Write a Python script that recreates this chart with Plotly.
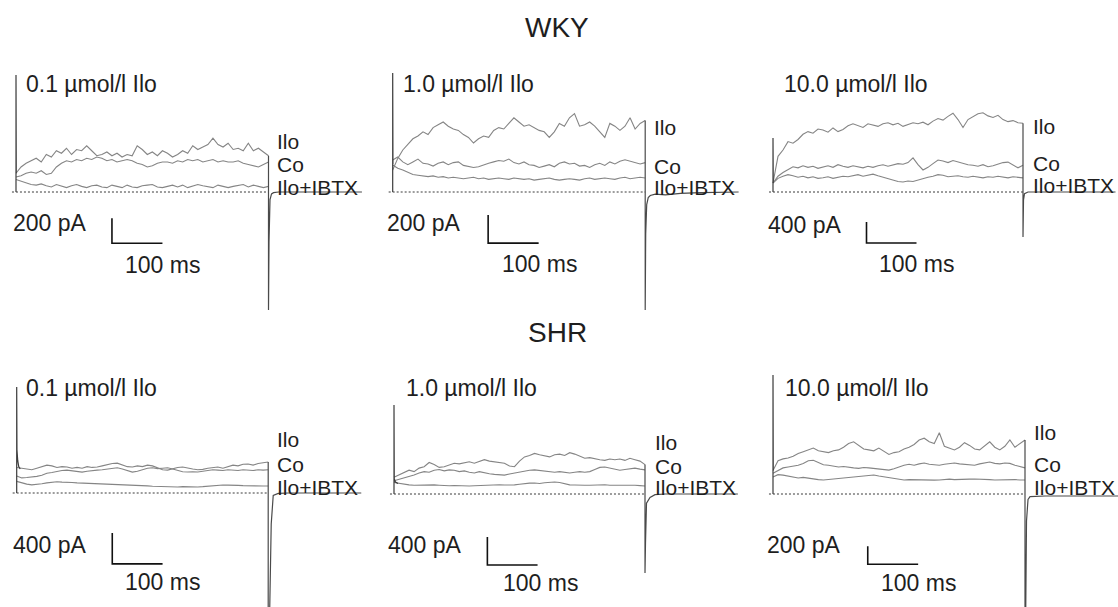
import plotly.graph_objects as go

W, H = 1118, 607

# time base (ms) of the depolarising pulse, sampled every 10 ms
t = list(range(0, 501, 10))
onset_t_fast = [0, 0, 0.5]
tail_t = [500, 500, 501, 503, 506, 510, 520, 540, 570, 610, 650, 685]

# ---------------- WKY ----------------
wky01_ilo = [150,200,230,250,270,240,300,280,330,310, 350,300,340,330,370,330,290,300,320,290,
             310,280,300,290,370,340,300,320,290,330, 310,280,300,330,310,370,340,360,380,430,
             380,360,390,340,350,330,390,330,350,320, 290]
wky01_co = [120,130,150,160,150,170,140,150,200,230, 250,240,260,250,270,260,280,270,250,260,
            240,250,260,250,230,220,200,210,230,240, 240,230,250,240,260,250,260,240,250,260,
            240,250,240,240,250,230,220,210,200,220, 240]
wky01_ibtx = [100,85,70,60,55,65,50,40,60,50, 35,50,60,45,35,50,55,40,35,55,
              45,35,55,40,35,50,55,60,40,35, 45,55,40,55,35,45,60,50,40,35,
              55,45,35,45,55,60,40,55,45,35, 45]
wky01_onset = [0, 936, 150]
wky01_tail = [290, -944, -400, -60, -15, -5, 0, 0, 0, 0, 0, 0]

wky10_ilo = [157,240,300,340,380,400,430,410,460,480, 500,470,450,440,410,390,350,380,400,390,
             440,460,450,490,530,500,470,480,460,440, 430,390,430,490,470,530,560,470,480,500,
             470,430,390,490,470,440,470,530,450,490, 510]
wky10_co = [228,250,215,195,215,235,205,200,185,205, 215,195,210,215,190,185,175,180,195,205,
            215,225,220,235,210,200,215,195,190,175, 185,195,180,205,215,200,205,185,190,175,
            195,205,190,215,200,220,230,220,210,200, 210]
wky10_ibtx = [193,170,157,140,125,120,115,110,115,105, 110,100,105,100,95,100,105,95,100,90,
              95,100,95,90,100,95,90,95,85,90, 95,100,90,85,90,95,90,85,95,100,
              90,95,100,95,90,100,105,95,100,105, 100]
wky10_onset = [0, 850, 200]
wky10_tail = [510, -843, -300, -90, -40, -25, -15, -20, -10, -5, -3, 0]

wky100_ilo = [171,680,800,960,930,1000,1100,1150,1120,1200, 1180,1140,1220,1150,1190,1260,1300,1270,1230,1300,
              1280,1250,1300,1320,1280,1310,1250,1290,1320,1300, 1330,1280,1350,1400,1370,1440,1500,1380,1230,1380,
              1440,1490,1510,1450,1420,1460,1380,1340,1360,1320, 1310]
wky100_co = [171,300,370,430,480,460,500,470,490,450, 480,500,470,520,490,470,500,480,460,490,
             470,500,520,490,510,540,530,560,650,520, 420,470,540,610,590,560,600,570,540,520,
             510,490,520,480,500,530,560,570,520,460, 510]
wky100_ibtx = [171,260,300,330,310,280,300,270,290,260, 270,290,260,280,300,290,310,330,300,320,
               340,310,280,260,230,200,190,210,200,230, 260,280,300,330,320,290,300,310,290,280,
               300,290,270,290,280,300,280,270,290,280, 270]
wky100_onset = [0, 1029, 171]
wky100_tail = [1310, -857, -150, -30, -10, 0, 0, 0, 0, 0, 0, 0]

# ---------------- SHR ----------------
shr01_ilo = [330,320,310,300,320,340,360,350,330,340, 335,320,330,320,340,330,335,350,370,380,
             385,360,340,335,350,340,360,350,320,300, 295,310,330,335,320,310,300,305,320,330,
             335,320,340,360,350,370,375,360,380,390, 400]
shr01_co = [220,195,200,205,215,230,255,265,280,290, 295,285,275,270,280,290,295,300,310,320,
            325,310,290,270,280,300,320,325,315,320, 325,310,290,275,270,275,270,280,290,300,
            295,290,300,295,290,300,295,290,300,295, 300]
shr01_ibtx = [150,130,115,105,110,120,130,140,145,140, 142,135,130,128,125,120,116,118,112,108,
              110,105,100,103,98,95,92,88,85,80, 77,80,78,82,80,76,78,82,88,95,
              100,104,102,103,98,95,92,90,94,90, 90]
shr01_onset_t = [0, 0, 0.5, 2, 4, 7]
shr01_onset = [0, 1368, 560, 420, 340, 310]
shr01_tail = [400, -1600, -1600, -1500, -400, -30, -5, 0, 0, 0, 0, 0]

shr10_ilo = [240,270,310,340,320,370,390,450,420,380, 390,420,440,430,450,460,440,470,490,470,
             460,450,440,400,390,470,530,550,580,560, 540,530,560,570,550,590,570,540,510,520,
             500,490,480,500,490,500,480,510,490,470, 420]
shr10_co = [190,210,230,245,270,300,320,310,340,350, 330,345,340,320,330,310,300,320,300,290,
            280,275,270,285,300,315,330,340,345,335, 320,315,310,320,305,300,310,320,310,320,
            350,380,385,370,350,340,350,360,370,355, 345]
shr10_ibtx = [165,150,138,130,125,128,132,128,130,125, 120,118,122,116,112,114,118,122,126,130,
              128,132,128,125,130,140,150,155,158,150, 160,165,172,165,145,130,128,132,126,124,
              130,128,132,126,128,124,130,128,126,120, 114]
shr10_onset_t = [0, 0, 0.5, 3, 8]
shr10_onset = [0, 1271, 220, 170, 150]
shr10_tail = [420, -1129, -700, -130, -100, -50, -10, 0, 0, 0, 0, 0]

shr100_ilo = [260,370,390,400,420,450,470,490,510,480, 470,460,480,490,520,560,580,540,500,490,
              480,510,470,440,460,470,500,520,550,600, 620,580,560,680,530,510,490,520,570,540,
              500,490,540,580,520,490,530,600,520,560, 600]
shr100_co = [230,260,290,300,310,320,340,370,375,350, 325,320,310,300,305,295,290,285,295,290,
             285,280,275,265,280,300,320,330,320,335, 345,330,325,320,330,340,345,335,330,325,
             320,335,345,355,340,335,345,340,320,305, 290]
shr100_ibtx = [190,215,210,200,190,178,185,175,165,160, 156,162,170,178,182,186,190,195,200,205,
               211,200,190,178,170,160,156,160,158,155, 160,158,154,156,162,165,160,164,168,165,
               167,162,158,160,156,158,155,158,160,156, 156]
shr100_onset = [0, 1322, 260]
shr100_tail = [600, -1600, -1600, -300, -60, -30, -25, -22, -22, -22, -22, -22]

concentrations = ["0.1 µmol/l Ilo", "1.0 µmol/l Ilo", "10.0 µmol/l Ilo"]
scale_pA = [200, 200, 400, 400, 400, 200]
scale_ms = 100
trace_names = ["Ilo", "Co", "Ilo+IBTX"]

panels = [
    (wky01_ilo, wky01_co, wky01_ibtx, onset_t_fast, wky01_onset, wky01_tail),
    (wky10_ilo, wky10_co, wky10_ibtx, onset_t_fast, wky10_onset, wky10_tail),
    (wky100_ilo, wky100_co, wky100_ibtx, onset_t_fast, wky100_onset, wky100_tail),
    (shr01_ilo, shr01_co, shr01_ibtx, shr01_onset_t, shr01_onset, shr01_tail),
    (shr10_ilo, shr10_co, shr10_ibtx, shr10_onset_t, shr10_onset, shr10_tail),
    (shr100_ilo, shr100_co, shr100_ibtx, onset_t_fast, shr100_onset, shr100_tail),
]

# ---------------- layout geometry (pixels) ----------------
# pulse-start x px, baseline y px, px per ms, px per pA, domain box
geom = [
    (16.0, 192, 0.505, 0.125, 0, 372, 45, 318),
    (392.7, 192, 0.505, 0.14, 372, 745, 45, 318),
    (773.0, 192, 0.500, 0.0525, 745, 1118, 45, 318),
    (16.7, 493, 0.503, 0.0775, 0, 372, 355, 607),
    (394.0, 494, 0.502, 0.07, 372, 745, 355, 607),
    (773.0, 494, 0.504, 0.09, 745, 1118, 355, 607),
]
# scale bar corner (ms, pA)
sbar = [(190, -410), (189, -365), (187, -970), (190, -915), (186, -1015), (188, -780)]
# label positions (px): title, Ilo/Co/IBTX, scale labels
title_pos = [(25, 84), (402, 84), (783, 84), (25, 388), (405, 388), (784, 388)]
lab_x = [276, 653, 1032, 276, 654, 1033]
lab_y = [(141, 164, 187), (128, 166, 187), (127, 163, 185),
         (439, 464, 487), (442, 466, 487), (432, 464, 487)]
pa_pos = [(12, 223), (386, 223), (767, 225), (12, 545), (387, 545), (766, 545)]
ms_pos = [(124, 265), (501, 264), (878, 264), (124, 582), (502, 583), (880, 583)]

FONT = "Liberation Sans, Arial, sans-serif"
TXT = "#1e1e1e"
GRAY = "#858585"

def px(x):
    return x / W

def py(y):
    return 1 - y / H

fig = go.Figure()
layout_axes = {}
annotations = []

for i, (ilo, co, ibtx, on_t, on_v, tail) in enumerate(panels):
    ox, base, sx, sy, dx0, dx1, dy0, dy1 = geom[i]
    sfx = "" if i == 0 else str(i + 1)
    xa, ya = "x" + sfx, "y" + sfx
    layout_axes["xaxis" + sfx] = dict(domain=[px(dx0), px(dx1)],
                                      range=[(dx0 - ox) / sx, (dx1 - ox) / sx],
                                      visible=False, fixedrange=True, anchor=ya)
    layout_axes["yaxis" + sfx] = dict(domain=[py(dy1), py(dy0)],
                                      range=[(base - dy1) / sy, (base - dy0) / sy],
                                      visible=False, fixedrange=True, anchor=xa)
    common = dict(xaxis=xa, yaxis=ya, mode="lines", showlegend=False, hoverinfo="skip")
    # dotted zero line during the pulse
    fig.add_trace(go.Scatter(x=[-8, 500], y=[0, 0], line=dict(color="#3a3a3a", width=1, dash="2px,2px"), **common))
    for arr in (ibtx, co, ilo):
        fig.add_trace(go.Scatter(x=t, y=arr, line=dict(color=GRAY, width=1.1), **common))
    fig.add_trace(go.Scatter(x=on_t, y=on_v, line=dict(color="#3c3c3c", width=1.2), **common))
    fig.add_trace(go.Scatter(x=tail_t, y=tail, line=dict(color="#4a4a4a", width=1.2), **common))
    # scale bar
    st, sp = sbar[i]
    fig.add_trace(go.Scatter(x=[st, st, st + scale_ms], y=[sp + scale_pA[i], sp, sp],
                             line=dict(color="#111111", width=1.6), **common))

    annotations.append(dict(x=px(title_pos[i][0]), y=py(title_pos[i][1]), text=concentrations[i % 3],
                            font=dict(size=23, family=FONT, color=TXT)))
    for name, yy in zip(trace_names, lab_y[i]):
        annotations.append(dict(x=px(lab_x[i]), y=py(yy), text=name,
                                font=dict(size=21, family=FONT, color=TXT)))
    annotations.append(dict(x=px(pa_pos[i][0]), y=py(pa_pos[i][1]), text=f"{scale_pA[i]} pA",
                            font=dict(size=23, family=FONT, color=TXT)))
    annotations.append(dict(x=px(ms_pos[i][0]), y=py(ms_pos[i][1]), text=f"{scale_ms} ms",
                            font=dict(size=23, family=FONT, color=TXT)))

for a in annotations:
    a.update(xref="paper", yref="paper", xanchor="left", yanchor="middle", showarrow=False, borderpad=0)

for txt, yy in (("WKY", 27), ("SHR", 332)):
    annotations.append(dict(x=px(557), y=py(yy), xref="paper", yref="paper", text=txt,
                            xanchor="center", yanchor="middle", showarrow=False, borderpad=0,
                            font=dict(size=28, family=FONT, color=TXT)))

fig.update_layout(width=W, height=H, margin=dict(l=0, r=0, t=0, b=0), autosize=False,
                  paper_bgcolor="white", plot_bgcolor="rgba(0,0,0,0)",
                  annotations=annotations, **layout_axes)

fig.write_html("out.html")
